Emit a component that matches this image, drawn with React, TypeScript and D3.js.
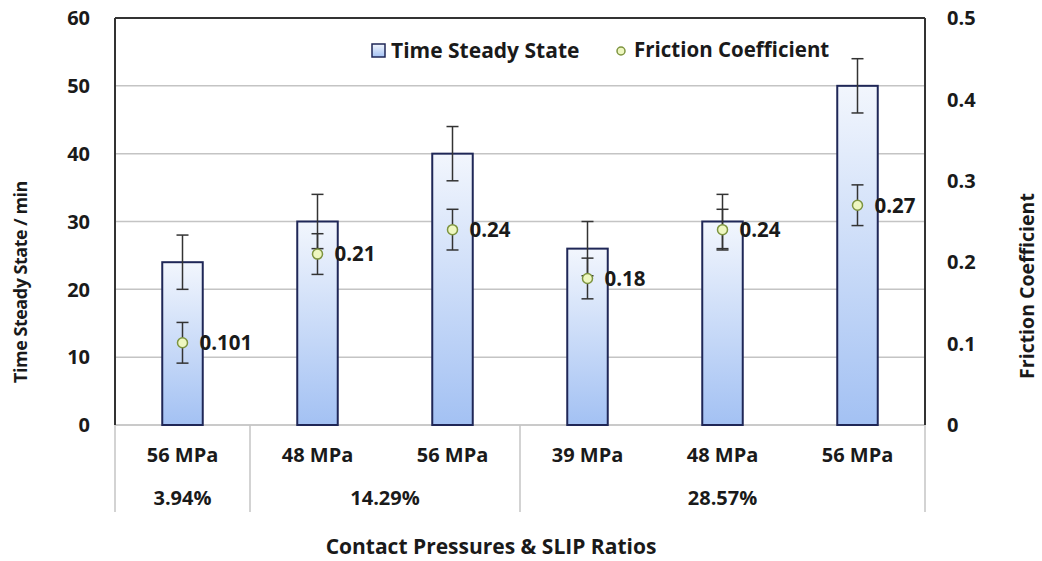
import React from "react";
import * as d3 from "d3";

// chart values
const pressures = ["56 MPa", "48 MPa", "56 MPa", "39 MPa", "48 MPa", "56 MPa"];
const slipGroups = [
  { label: "3.94%", from: 0, to: 1 },
  { label: "14.29%", from: 1, to: 3 },
  { label: "28.57%", from: 3, to: 6 },
];
const timeSteady = [24, 30, 40, 26, 30, 50];
const timeErr = [4, 4, 4, 4, 4, 4];
const friction = [0.101, 0.21, 0.24, 0.18, 0.24, 0.27];
const frictionErr = [0.025, 0.025, 0.025, 0.025, 0.025, 0.025];
const frictionLabels = ["0.101", "0.21", "0.24", "0.18", "0.24", "0.27"];
const leftTicks = [0, 10, 20, 30, 40, 50, 60];
const rightTicks = [0, 0.1, 0.2, 0.3, 0.4, 0.5];

const W = 1042;
const H = 561;
const left = 115;
const right = 925;
const top = 18;
const bottom = 425;
const font = "'Open Sans', Lato, sans-serif";
const ink = "#1a1a1a";

export default function App() {
  const idx = d3.range(pressures.length).map(String);
  const x = d3.scaleBand<string>().domain(idx).range([left, right]);
  const y = d3.scaleLinear().domain([0, 60]).range([bottom, top]);
  const y2 = d3.scaleLinear().domain([0, 0.5]).range([bottom, top]);
  const bw = x.bandwidth() * 0.3;
  const cap = 6;

  return (
    <svg width={W} height={H} style={{ position: "absolute", left: 0, top: 0 }} fontFamily={font}>
      <defs>
        <linearGradient id="barFill" x1="0" y1="0" x2="0" y2="1">
          <stop offset="0%" stopColor="#f2f6fd" />
          <stop offset="100%" stopColor="#a3c1f3" />
        </linearGradient>
      </defs>
      <rect width={W} height={H} fill="#fff" />

      {/* gridlines */}
      {leftTicks.filter(t => t > 0 && t < 60).map(t => (
        <line key={t} x1={left} x2={right} y1={y(t)} y2={y(t)} stroke="#c4c4c4" strokeWidth={1.5} />
      ))}

      {/* category area below the axis */}
      <line x1={left} x2={right} y1={bottom} y2={bottom} stroke="#b8b8b8" strokeWidth={1.5} />
      {slipGroups.map(g => (
        <line key={"s" + g.from} x1={x(String(g.from))!} x2={x(String(g.from))!} y1={bottom} y2={512} stroke="#c4c4c4" strokeWidth={1.5} />
      ))}
      <line x1={right} x2={right} y1={bottom} y2={512} stroke="#c4c4c4" strokeWidth={1.5} />

      {/* bars */}
      {timeSteady.map((v, i) => {
        const cx = x(String(i))! + x.bandwidth() / 2;
        return (
          <g key={"b" + i}>
            <rect x={cx - bw / 2} y={y(v)} width={bw} height={y(0) - y(v)} fill="url(#barFill)" stroke="#1f2757" strokeWidth={2} />
            <line x1={cx} x2={cx} y1={y(v + timeErr[i])} y2={y(v - timeErr[i])} stroke="#333" strokeWidth={1.5} />
            <line x1={cx - cap} x2={cx + cap} y1={y(v + timeErr[i])} y2={y(v + timeErr[i])} stroke="#333" strokeWidth={1.5} />
            <line x1={cx - cap} x2={cx + cap} y1={y(v - timeErr[i])} y2={y(v - timeErr[i])} stroke="#333" strokeWidth={1.5} />
          </g>
        );
      })}

      {/* friction points */}
      {friction.map((v, i) => {
        const cx = x(String(i))! + x.bandwidth() / 2;
        return (
          <g key={"f" + i}>
            <line x1={cx} x2={cx} y1={y2(v + frictionErr[i])} y2={y2(v - frictionErr[i])} stroke="#333" strokeWidth={1.5} />
            <line x1={cx - cap} x2={cx + cap} y1={y2(v + frictionErr[i])} y2={y2(v + frictionErr[i])} stroke="#333" strokeWidth={1.5} />
            <line x1={cx - cap} x2={cx + cap} y1={y2(v - frictionErr[i])} y2={y2(v - frictionErr[i])} stroke="#333" strokeWidth={1.5} />
            <circle cx={cx} cy={y2(v)} r={5} fill="#eef7c0" stroke="#7d9440" strokeWidth={1.5} />
            <text x={cx + 17} y={y2(v)} dy="0.36em" fontSize={20.5} fontWeight={700} fill={ink}>{frictionLabels[i]}</text>
          </g>
        );
      })}

      {/* frame */}
      <line x1={left} x2={right} y1={top} y2={top} stroke="#333" strokeWidth={2} />
      <line x1={left} x2={left} y1={top} y2={bottom} stroke="#333" strokeWidth={2} />
      <line x1={right} x2={right} y1={top} y2={bottom} stroke="#333" strokeWidth={2} />

      {/* axes labels */}
      {leftTicks.map(t => (
        <text key={"l" + t} x={90} y={y(t)} dy="0.36em" textAnchor="end" fontSize={20} fontWeight={700} fill={ink}>{t}</text>
      ))}
      {rightTicks.map(t => (
        <text key={"r" + t} x={947} y={y2(t)} dy="0.36em" fontSize={20} fontWeight={700} fill={ink}>{t === 0 ? "0" : t.toFixed(1)}</text>
      ))}

      {pressures.map((p, i) => (
        <text key={"p" + i} x={x(String(i))! + x.bandwidth() / 2} y={455} dy="0.36em" textAnchor="middle" fontSize={20} fontWeight={700} fill={ink}>{p}</text>
      ))}
      {slipGroups.map(g => {
        const cx = (x(String(g.from))! + (g.to >= pressures.length ? right : x(String(g.to))!)) / 2;
        return (
          <text key={"g" + g.label} x={cx} y={498} dy="0.36em" textAnchor="middle" fontSize={20} fontWeight={700} fill={ink}>{g.label}</text>
        );
      })}

      <text x={491} y={546} dy="0.36em" textAnchor="middle" fontSize={21} fontWeight={700} fill={ink}>Contact Pressures &amp; SLIP Ratios</text>
      <text transform="translate(21,282) rotate(-90)" dy="0.36em" textAnchor="middle" fontSize={18} fontWeight={700} fill={ink} letterSpacing={-0.5}>Time Steady State / min</text>
      <text transform="translate(1028,286) rotate(-90)" dy="0.32em" textAnchor="middle" fontSize={19.5} fontWeight={700} fill={ink}>Friction Coefficient</text>

      {/* legend */}
      <rect x={372} y={44} width={13} height={13} fill="url(#barFill)" stroke="#1f2757" strokeWidth={1.5} />
      <text x={391} y={50} dy="0.36em" fontSize={21} fontWeight={700} fill={ink}>Time Steady State</text>
      <circle cx={621} cy={51} r={4} fill="#eef7c0" stroke="#7d9440" strokeWidth={1.5} />
      <text x={634} y={50} dy="0.36em" fontSize={20.5} fontWeight={700} fill={ink}>Friction Coefficient</text>
    </svg>
  );
}
